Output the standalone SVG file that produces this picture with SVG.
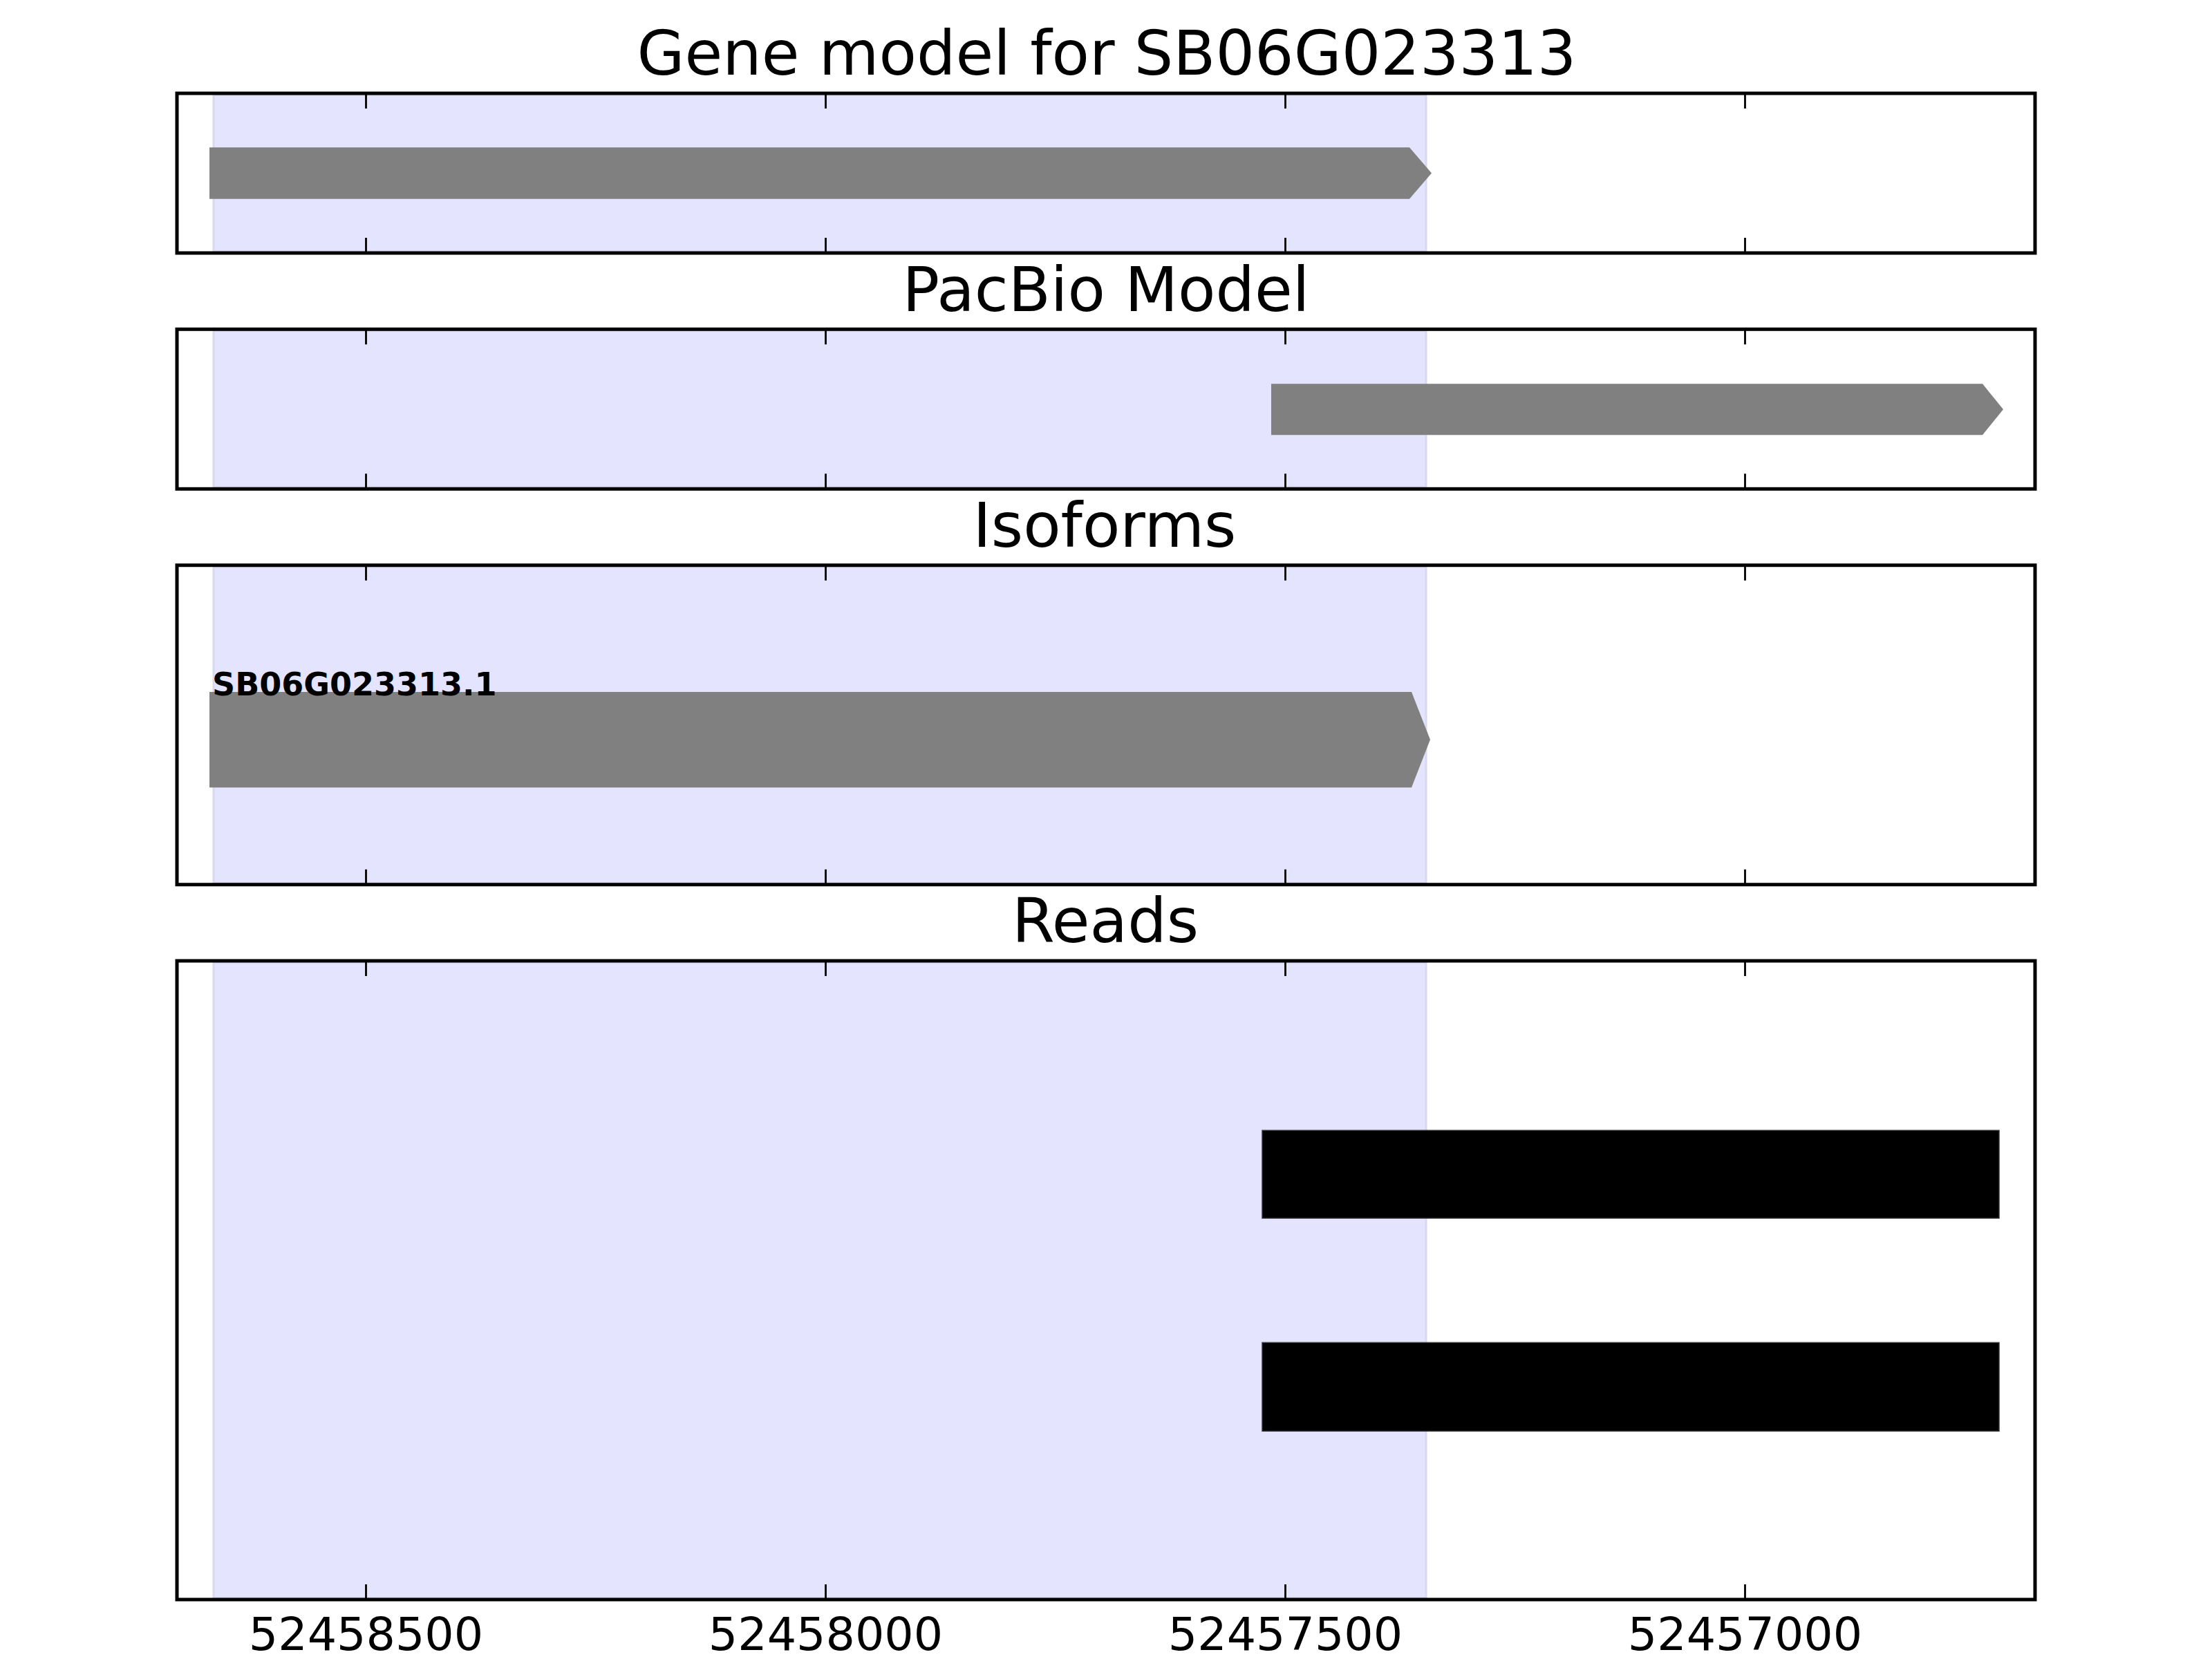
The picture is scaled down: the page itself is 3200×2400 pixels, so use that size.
<svg xmlns="http://www.w3.org/2000/svg" width="3200" height="2400" viewBox="0 0 3200 2400">
<style>
.frame{fill:none;stroke:#000;stroke-width:5}
.span{fill:#e4e4ff;stroke:#d8d8f0;stroke-width:3}
.tick{stroke:#000;stroke-width:2.8}
.gene{fill:#808080}
.read{fill:#000;stroke:#333;stroke-width:1.5}
.title{font-family:"DejaVu Sans",sans-serif;font-size:89px;text-anchor:middle;fill:#000}
.tl{font-family:"DejaVu Sans",sans-serif;font-size:66.7px;text-anchor:middle;fill:#000}
.iso{font-family:"DejaVu Sans",sans-serif;font-size:46px;font-weight:bold;fill:#000}
</style>
<rect width="3200" height="2400" fill="#fff"/>

<g id="panel-gene-model">
<rect class="span" x="309" y="137.5" width="1754" height="226"/>
<polygon class="gene" points="303,213.3 2039,213.3 2071,250.5 2039,287.7 303,287.7"/>
<path class="tick" d="M529.5,135v22M1194.5,135v22M1859.5,135v22M2524.5,135v22M529.5,366v-22M1194.5,366v-22M1859.5,366v-22M2524.5,366v-22"/>
<rect class="frame" x="256" y="135" width="2688" height="231"/>
<text class="title" x="1601" y="108">Gene model for SB06G023313</text>
</g>

<g id="panel-pacbio">
<rect class="span" x="309" y="478.8" width="1754" height="226"/>
<polygon class="gene" points="1839,555.3 2868,555.3 2898,592.3 2868,629.3 1839,629.3"/>
<path class="tick" d="M529.5,476.3v22M1194.5,476.3v22M1859.5,476.3v22M2524.5,476.3v22M529.5,707.3v-22M1194.5,707.3v-22M1859.5,707.3v-22M2524.5,707.3v-22"/>
<rect class="frame" x="256" y="476.3" width="2688" height="231"/>
<text class="title" x="1600" y="450">PacBio Model</text>
</g>

<g id="panel-isoforms">
<rect class="span" x="309" y="820.2" width="1754" height="457"/>
<polygon class="gene" points="303,1001 2042,1001 2069,1070 2042,1139.3 303,1139.3"/>
<text class="iso" x="307" y="1006">SB06G023313.1</text>
<path class="tick" d="M529.5,817.7v22M1194.5,817.7v22M1859.5,817.7v22M2524.5,817.7v22M529.5,1279.7v-22M1194.5,1279.7v-22M1859.5,1279.7v-22M2524.5,1279.7v-22"/>
<rect class="frame" x="256" y="817.7" width="2688" height="462"/>
<text class="title" x="1598" y="791">Isoforms</text>
</g>

<g id="panel-reads">
<rect class="span" x="309" y="1392.5" width="1754" height="919"/>
<rect class="read" x="1826" y="1635.3" width="1066" height="127"/>
<rect x="1891" y="1696.5" width="3.5" height="4.5" fill="#000"/>
<rect class="read" x="1826" y="1942.3" width="1066" height="128"/>
<rect x="1891" y="2003.5" width="3.5" height="4.5" fill="#000"/>
<path class="tick" d="M529.5,1390v22M1194.5,1390v22M1859.5,1390v22M2524.5,1390v22M529.5,2314v-22M1194.5,2314v-22M1859.5,2314v-22M2524.5,2314v-22"/>
<rect class="frame" x="256" y="1390" width="2688" height="924"/>
<text class="title" x="1599" y="1363">Reads</text>
</g>

<g id="x-axis-labels">
<text class="tl" x="529.5" y="2387">52458500</text>
<text class="tl" x="1194.5" y="2387">52458000</text>
<text class="tl" x="1859.5" y="2387">52457500</text>
<text class="tl" x="2524.5" y="2387">52457000</text>
</g>
</svg>
